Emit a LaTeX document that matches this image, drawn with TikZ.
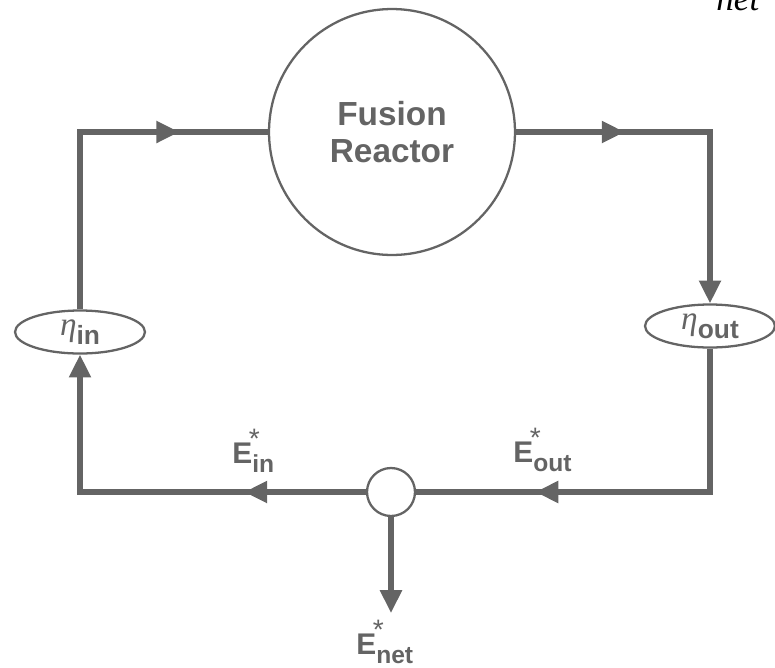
\documentclass[tikz,border=0pt]{standalone}
\usepackage{fontspec}
\setmainfont{Liberation Sans}
\newfontfamily\serifface{Liberation Serif}
\usetikzlibrary{arrows.meta,decorations.markings,shapes.geometric}

\definecolor{ink}{RGB}{100,100,100}

% E* label with its subscript
\newcommand{\Elab}[1]{E\rlap{\hspace{-2pt}\raisebox{8pt}{\mdseries\fontsize{16}{16}\selectfont *}}\raisebox{-5.5pt}{\fontsize{14}{14}\selectfont #1}}
% eta label with its subscript
\newcommand{\Hlab}[1]{\raisebox{2pt}{\serifface\itshape\fontsize{19}{19}\selectfont η}\raisebox{-3pt}{\bfseries\fontsize{15}{15}\selectfont #1}}

\tikzset{
  flow/.style={draw=ink, line width=3pt},
  head/.style={-{Triangle[length=13pt,width=12pt]}},
  midarrow/.style={postaction={decorate},
    decoration={markings, mark=at position #1 with {\arrow{Triangle[length=13pt,width=12pt]}}}},
  oval/.style={ellipse, draw=ink, line width=1.3pt, minimum width=2.6cm,
    minimum height=0.86cm, inner sep=0pt, text=ink},
  lab/.style={text=ink, font=\bfseries\fontsize{17}{17}\selectfont, inner sep=0pt},
}

\begin{document}
\begin{tikzpicture}[x=0.02cm, y=-0.02cm]
  \useasboundingbox (0,0) rectangle (775,667);

  \coordinate (N) at (391,613);

  \node[circle, draw=ink, line width=1.3pt, minimum size=4.92cm, text=ink, align=center,
        font=\bfseries\fontsize{19}{21}\selectfont] (R) at (392,132) {Fusion\\Reactor};
  \node[oval] (Hin)  at (80,332)  {\Hlab{in}};
  \node[oval] (Hout) at (710,326) {\Hlab{out}};
  \node[circle, draw=ink, line width=1.3pt, minimum size=0.96cm, inner sep=0pt] (J) at (391,492) {};

  % loop
  \draw[flow, midarrow=0.757] (Hin) |- (R);
  \draw[flow, head, midarrow=0.297] (R) -| (Hout);
  \draw[flow, midarrow=0.727] (Hout) |- (J);
  \draw[flow, head, midarrow=0.287] (J) -| (Hin);
  \draw[flow, head] (J) -- (N);

  \node[lab, anchor=base west] (Lin)  at (232,463) {\Elab{in}};
  \node[lab, anchor=base west] (Lout) at (513,462) {\Elab{out}};
  \node[lab, anchor=base west] (Lnet) at (356,654) {\Elab{net}};

  \node[anchor=base west, inner sep=0pt, font=\serifface\itshape\fontsize{20}{20}\selectfont] (top) at (716,10) {net};
\end{tikzpicture}
\end{document}
